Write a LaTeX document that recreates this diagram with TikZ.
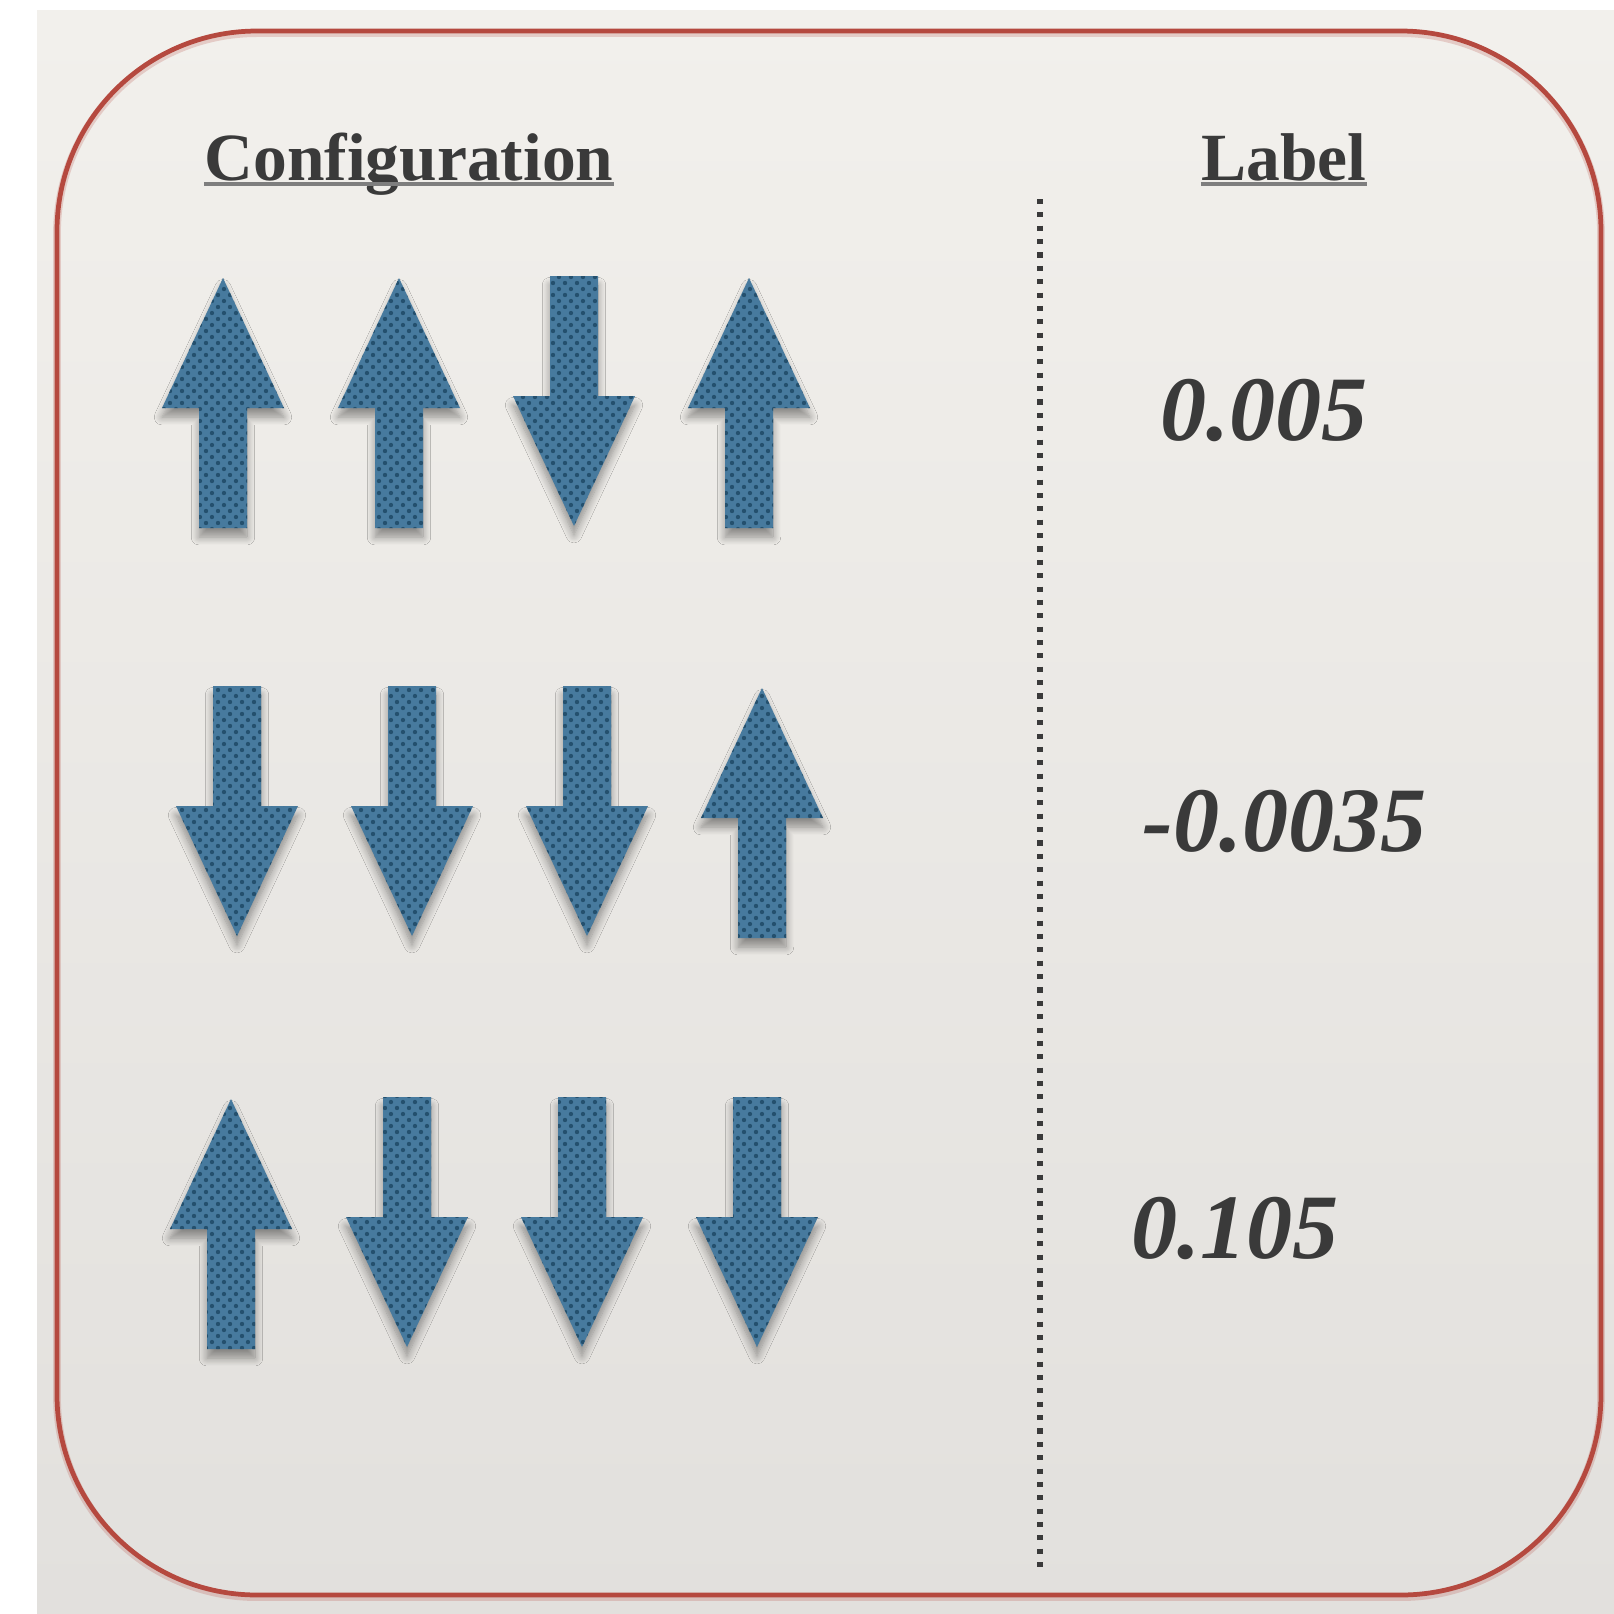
\documentclass[tikz,border=0pt]{standalone}
\usepackage{fontspec}
\setmainfont{Liberation Serif}
\usetikzlibrary{patterns.meta,shadows.blur}

\definecolor{paperTop}{HTML}{F2F0EC}
\definecolor{paperBot}{HTML}{E2E0DD}
\definecolor{frameRed}{HTML}{B5493F}
\definecolor{spinBlue}{HTML}{477A9E}
\definecolor{spinDot}{HTML}{24506E}
\definecolor{inkGrey}{HTML}{3A3A3A}
\definecolor{rule}{HTML}{7E7E7E}

% fine diagonal dot grid used as the texture of the spin arrows
\tikzdeclarepattern{
  name=spindots,
  type=uncolored,
  bounding box={(0pt,0pt) and (3.4pt,3.4pt)},
  tile size={(3.4pt,3.4pt)},
  code={
    \fill (0.85pt,0.85pt) circle (0.62pt);
    \fill (2.55pt,2.55pt) circle (0.62pt);
  }
}

\tikzset{
  spinbody/.style={
    fill=spinBlue,
    blur shadow={shadow xshift=0pt, shadow yshift=-2.6pt,
                 shadow blur radius=2.2pt, shadow blur steps=10,
                 shadow opacity=40},
    postaction={pattern=spindots, pattern color=spinDot}
  },
  % arrow length 250, head length 130, head width 122, shaft width 48
  spinup/.pic={
    \path[spinbody] (0,-125) -- (61,5) -- (24,5) -- (24,125)
      -- (-24,125) -- (-24,5) -- (-61,5) -- cycle;
  },
  spindown/.pic={
    \path[spinbody] (0,125) -- (61,-5) -- (24,-5) -- (24,-125)
      -- (-24,-125) -- (-24,-5) -- (-61,-5) -- cycle;
  },
  header/.style={font=\bfseries\fontsize{19.2}{23}\selectfont, text=inkGrey,
                 inner sep=0pt, anchor=base},
  value/.style={font=\bfseries\itshape\fontsize{26.2}{31}\selectfont, text=inkGrey,
                inner sep=0pt, anchor=base},
  uline/.style={draw=rule, line width=1.1pt},
  dotline/.style={draw=inkGrey, line width=1.45pt, dash pattern=on 1.45pt off 2.35pt},
  frame/.style={draw=frameRed, line width=1.35pt, rounded corners=2cm}
}

\begin{document}
\begin{tikzpicture}[x=0.01cm,y=-0.01cm]
  % page and paper
  \useasboundingbox (0,0) rectangle (1614,1614);
  \fill[white] (0,0) rectangle (1614,1614);
  \shade[top color=paperTop, bottom color=paperBot] (37,10) rectangle (1614,1614);

  % rounded frame with a soft edge underneath
  \draw[frame, draw opacity=0.22, line width=2.2pt, yshift=-0.6pt] (57,31) rectangle (1601,1595);
  \draw[frame] (57,31) rectangle (1601,1595);

  % column headers
  \node[header] (cfg) at (409,180) {Configuration};
  \node[header] (lbl) at (1284,180) {Label};
  \draw[uline] ([yshift=-1.1pt]cfg.base west) -- ([yshift=-1.1pt]cfg.base east);
  \draw[uline] ([yshift=-1.1pt]lbl.base west) -- ([yshift=-1.1pt]lbl.base east);

  % column divider
  \coordinate (divtop) at (1040,199);
  \coordinate (divbot) at (1040,1569);
  \draw[dotline] (divtop) -- (divbot);

  % first configuration: up up down up
  \pic at (223,403) {spinup};
  \pic at (399,403) {spinup};
  \pic at (574,401) {spindown};
  \pic at (749,403) {spinup};
  \node[value] (v1) at (1264,440) {0.005};

  % second configuration: down down down up
  \pic at (237,811) {spindown};
  \pic at (412,811) {spindown};
  \pic at (587,811) {spindown};
  \pic at (762,813) {spinup};
  \node[value] (v2) at (1285,851) {-0.0035};

  % third configuration: up down down down
  \pic at (231,1224) {spinup};
  \pic at (407,1222) {spindown};
  \pic at (582,1222) {spindown};
  \pic at (757,1222) {spindown};
  \node[value] (v3) at (1235,1258) {0.105};
\end{tikzpicture}
\end{document}
